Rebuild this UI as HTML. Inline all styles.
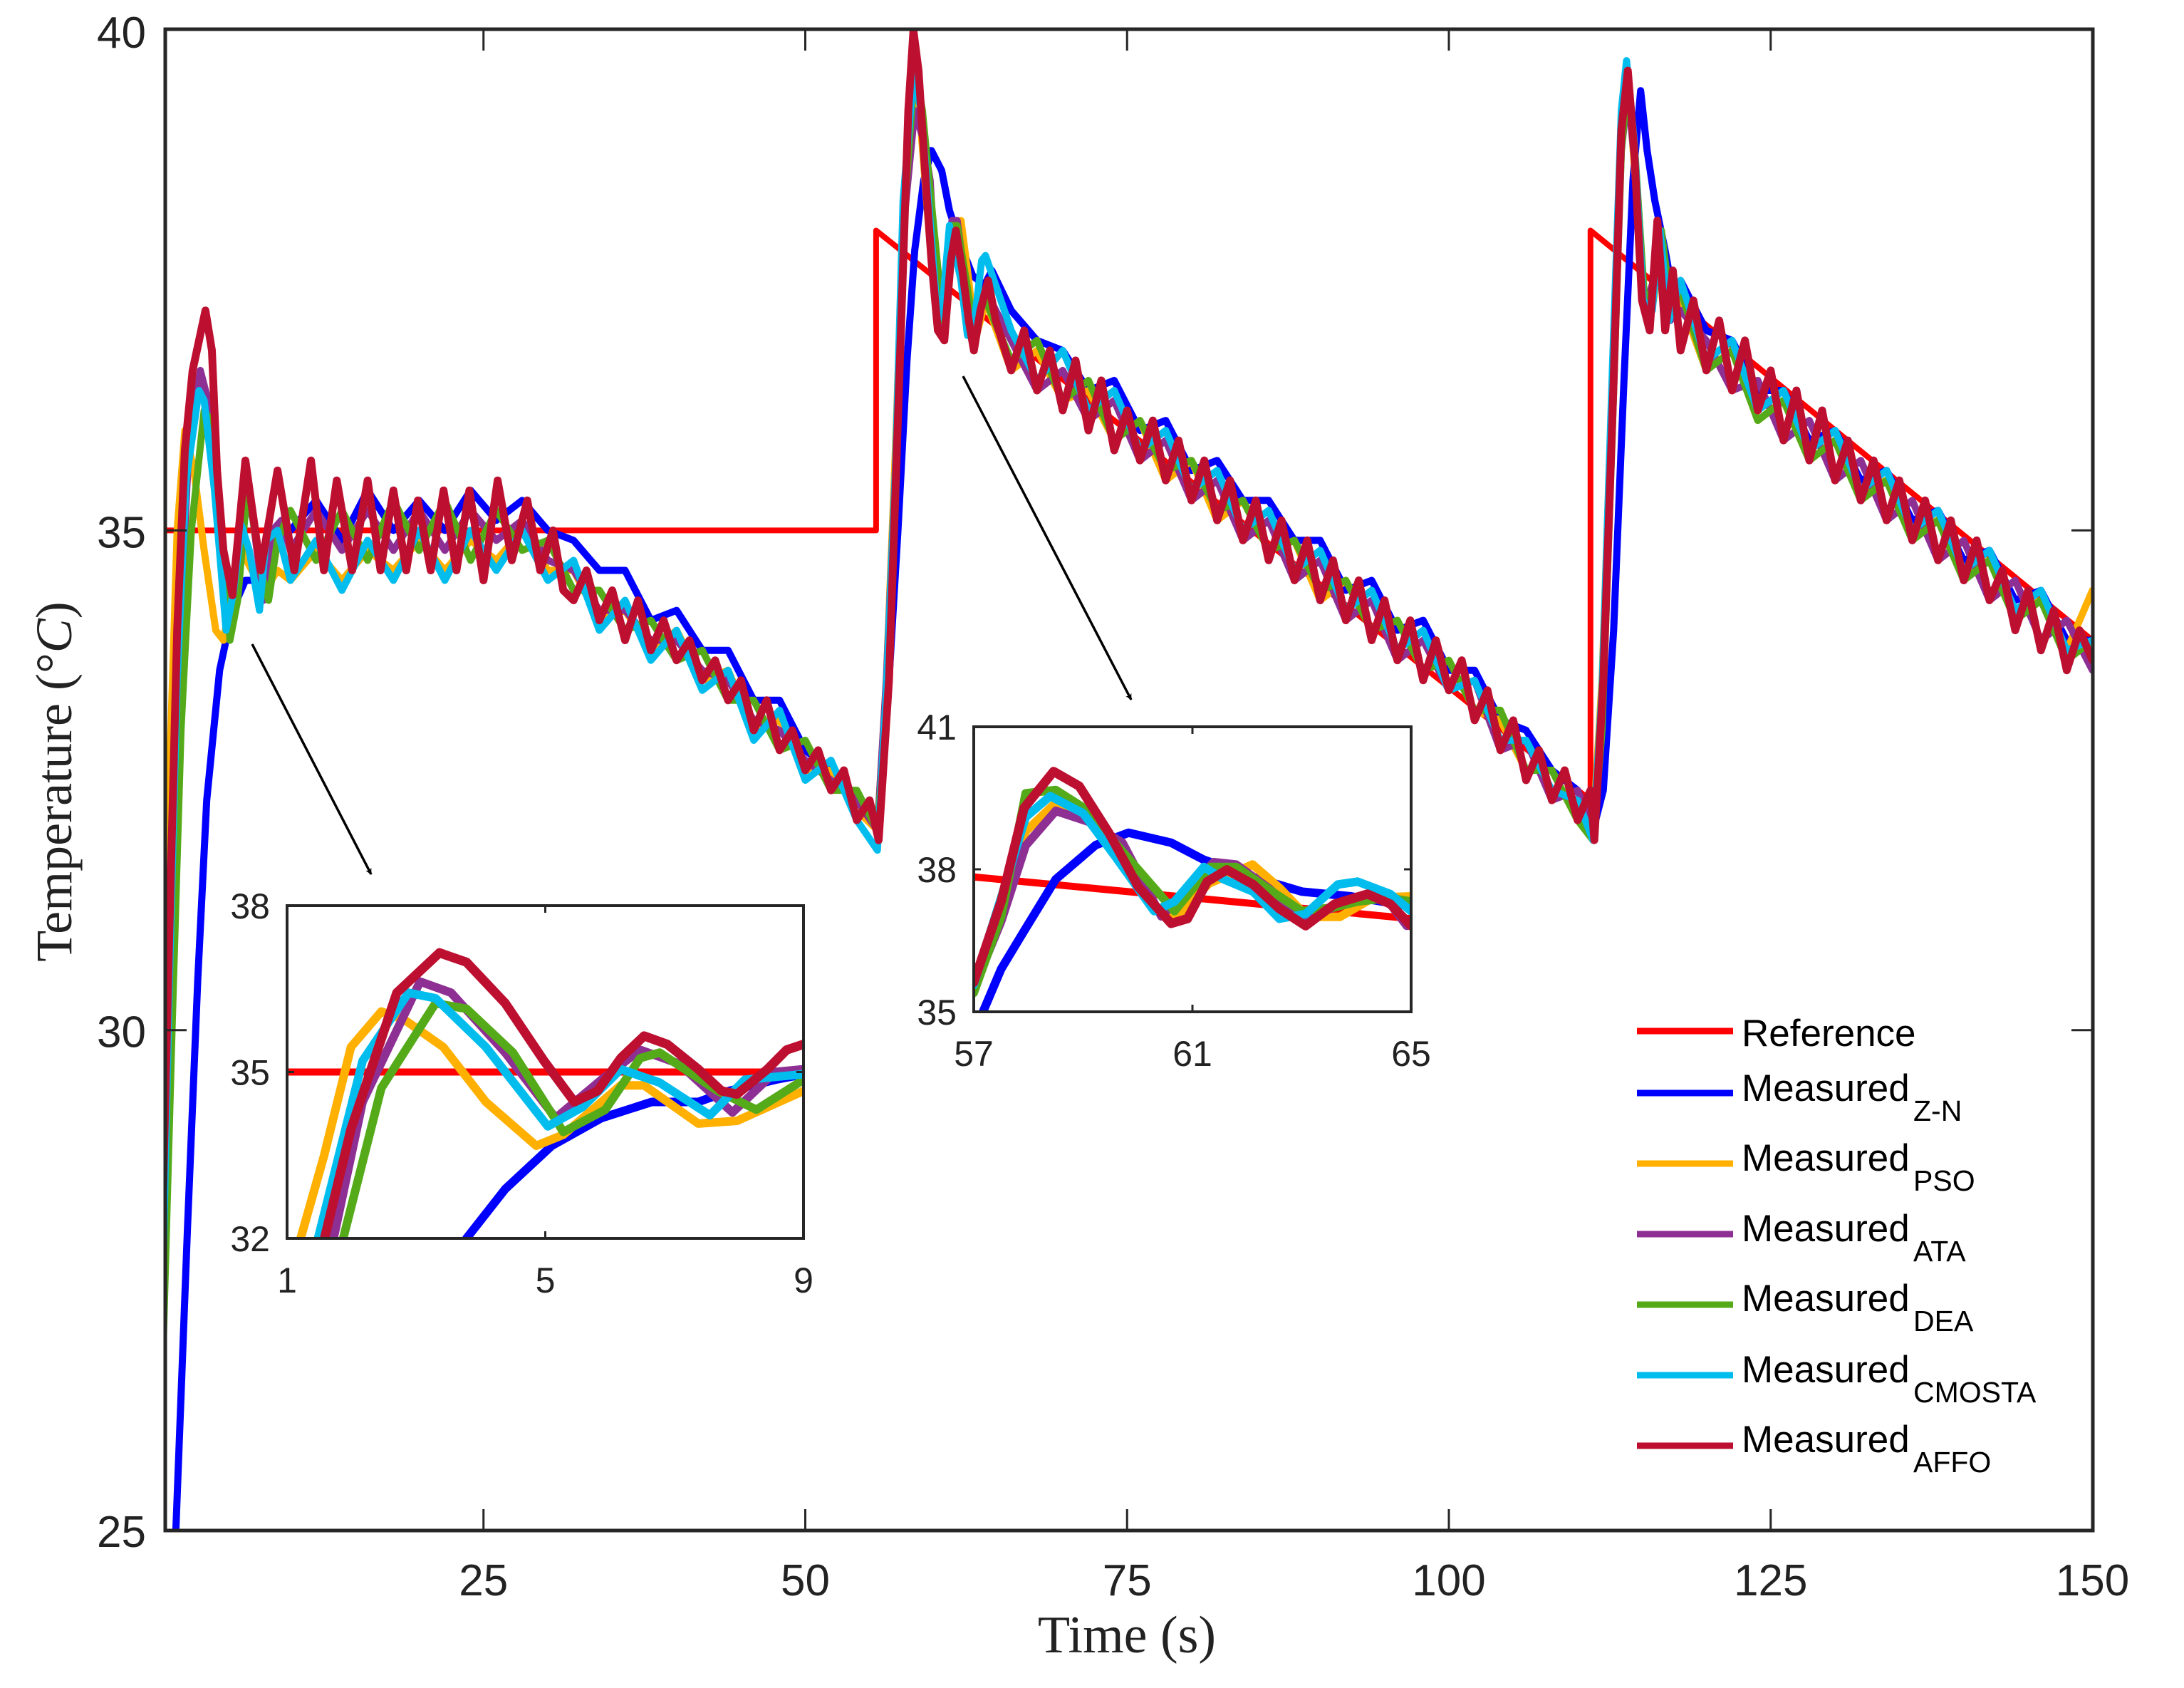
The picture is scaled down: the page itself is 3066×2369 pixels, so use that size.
<!DOCTYPE html>
<html><head><meta charset="utf-8"><title>Temperature response</title>
<style>
html,body{margin:0;padding:0;background:#fff;width:3066px;height:2369px;overflow:hidden;}
svg{display:block;}
.tk{font-family:"Liberation Sans",sans-serif;fill:#222;}
</style></head>
<body>
<svg id="chart" xmlns="http://www.w3.org/2000/svg" width="3066" height="2369" viewBox="0 0 3066 2369">
<defs>
<clipPath id="cMain"><rect x="232" y="41" width="2706" height="2107"/></clipPath>
<clipPath id="cIn1"><rect x="403" y="1271" width="725" height="467"/></clipPath>
<clipPath id="cIn2"><rect x="1367" y="1020" width="614" height="400"/></clipPath>
<marker id="arr" viewBox="0 0 10 10" refX="9" refY="5" markerWidth="9" markerHeight="9" orient="auto-start-reverse" markerUnits="userSpaceOnUse"><path d="M0,0 L10,5 L0,10 L3,5 z" fill="#000"/></marker>
</defs>
<rect x="0" y="0" width="3066" height="2369" fill="#fff"/>
<g id="mainLines" clip-path="url(#cMain)"></g>
<g id="axes"></g>
<line x1="354" y1="904" x2="521" y2="1227" stroke="#000" stroke-width="3.5" marker-end="url(#arr)"/>
<line x1="1352" y1="528" x2="1588" y2="982" stroke="#000" stroke-width="3.5" marker-end="url(#arr)"/>
<rect x="403" y="1271" width="725" height="467" fill="#fff"/>
<rect x="1367" y="1020" width="614" height="400" fill="#fff"/>
<g id="in1Lines" clip-path="url(#cIn1)"></g>
<g id="in2Lines" clip-path="url(#cIn2)"></g>
<g id="inAxes"></g>
<text x="1582" y="2319" text-anchor="middle" font-family="Liberation Serif, serif" font-size="74" fill="#222">Time (s)</text>
<text transform="translate(100,1097) rotate(-90)" text-anchor="middle" font-family="Liberation Serif, serif" font-size="72" fill="#222">Temperature (°<tspan font-style="italic">C</tspan>)</text>
<g id="legend"></g>
</svg>
<script>
// ---------- main chart data ----------
const xTicks = [25, 50, 75, 100, 125, 150];
const yTicks = [25, 30, 35, 40];
const refT = [0, 55.5, 55.5, 111, 111, 150];
const refV = [35, 35, 38, 32.3, 38, 33.9];

const znT = [0,1.1,2,2.8,3.5,4.5,5.5,6.5,7.5,8.5,9.5,10,12,14,16,18,20,22,24,26,28,30,32,34,36,38,40,42,44,46,48,50,52,54,55.6,56.5,57.2,57.9,58.5,59.2,59.8,60.6,61.2,62.1,63,63.9,64.5,66,68,70,72,74,76,78,80,82,84,86,88,90,92,94,96,98,100,102,104,106,108,110,111.2,112,112.8,113.6,114.3,114.9,115.4,116,116.8,117.5,118,120,122,124,126,128,130,132,134,136,138,140,142,144,146,148,150];
const znV = [22,25,28,30.5,32.3,33.6,34.2,34.5,34.5,34.8,35.0,35.0,35.3,34.9,35.4,35.0,35.3,35.0,35.4,35.1,35.3,35.0,34.9,34.6,34.6,34.1,34.2,33.8,33.8,33.3,33.3,32.8,32.6,32.3,32.0,33.5,35.0,36.7,37.8,38.5,38.8,38.6,38.2,37.85,37.55,37.45,37.6,37.2,36.9,36.8,36.4,36.5,36.0,36.1,35.6,35.7,35.3,35.3,34.9,34.9,34.4,34.5,34.0,34.1,33.6,33.6,33.1,33.0,32.6,32.4,32.0,32.4,34.0,36.5,38.5,39.4,38.8,38.3,37.8,37.3,37.5,37.0,36.9,36.4,36.4,35.9,36.0,35.5,35.6,35.1,35.2,34.7,34.8,34.3,34.4,33.9,33.9];

const psoT = [0,0.6,1.2,1.8,2.5,3.3,4.2,4.8,5.5,6.2,7,8,9,10,12,14,16,18,20,22,24,26,28,30,32,34,36,38,40,42,44,46,48,50,52,54,55.6,56.3,57,57.6,58.4,59,59.6,60.3,60.8,61.4,62.1,62.7,63.2,64,66,68,70,72,74,76,78,80,82,84,86,88,90,92,94,96,98,100,102,104,106,108,110,111.2,111.9,112.7,113.4,113.9,114.5,115.2,115.9,116.5,117.2,118,120,122,124,126,128,130,132,134,136,138,140,142,144,146,148,150];
const psoV = [29.2,32.5,35.0,36.0,35.6,34.8,34.0,33.9,34.4,34.8,34.6,34.4,34.6,34.5,34.8,34.5,34.8,34.6,34.9,34.6,34.9,34.7,35.0,34.6,34.6,34.1,34.2,33.8,34.0,33.5,33.6,33.0,33.1,32.6,32.6,32.2,32.0,33.5,35.8,38.0,39.4,39.0,38.0,37.1,37.2,37.9,38.1,37.5,36.9,37.3,36.6,36.8,36.3,36.4,35.9,36.1,35.5,35.7,35.1,35.3,34.8,34.9,34.3,34.5,34.0,34.1,33.6,33.7,33.2,33.1,32.6,32.6,32.1,32.0,33.5,36.5,39.0,39.5,38.5,37.2,37.3,37.9,37.2,37.3,36.6,36.8,36.1,36.3,35.7,35.9,35.4,35.5,35.0,35.1,34.6,34.7,34.2,34.3,33.8,34.4];

const ataT = [0,0.7,1.4,2.1,3.0,3.6,4.4,5.2,5.9,6.5,7.1,7.9,8.6,9.3,10,12,14,16,18,20,22,24,26,28,30,32,34,36,38,40,42,44,46,48,50,52,54,55.6,56.3,57,57.6,58.5,59.2,59.7,60.4,61.4,61.8,63,64,66,68,70,72,74,76,78,80,82,84,86,88,90,92,94,96,98,100,102,104,106,108,110,111.2,111.9,112.7,113.4,113.9,114.5,115.2,115.9,116.5,117.2,118,120,122,124,126,128,130,132,134,136,138,140,142,144,146,148,150];
const ataV = [27.3,31,34,35.8,36.6,36.3,35.3,34.2,34.8,35.4,35.1,34.3,35.0,35.1,34.8,35.2,34.8,35.2,34.8,35.2,34.8,35.2,34.9,35.1,34.7,34.6,34.2,34.2,33.9,33.9,33.6,33.5,33.1,33.0,32.7,32.5,32.3,32.0,33.5,35.6,38.0,39.2,38.9,38.5,37.0,38.1,38.1,36.95,37.4,36.9,36.4,36.6,36.1,36.3,35.7,35.9,35.3,35.5,34.9,35.1,34.5,34.7,34.1,34.3,33.7,33.9,33.4,33.5,32.8,32.9,32.3,32.4,32.0,33.3,36.3,38.8,39.4,38.6,37.2,37.5,38.0,37.1,37.2,36.9,36.4,36.5,35.9,36.1,35.5,35.7,35.1,35.3,34.7,34.9,34.3,34.5,33.9,34.1,33.6];

const deaT = [0,0.8,1.5,2.3,3.3,3.8,4.5,5.3,5.9,6.5,6.8,7.7,8.3,9.0,10,12,14,16,18,20,22,24,26,28,30,32,34,36,38,40,42,44,46,48,50,52,54,55.6,56.3,57,57.6,58.5,59.1,59.7,60.7,61.3,61.8,62.5,63,64,66,68,70,72,74,76,78,80,82,84,86,88,90,92,94,96,98,100,102,104,106,108,110,111.2,111.9,112.7,113.4,113.9,114.5,115.2,115.9,116.5,117.2,118,120,122,124,126,128,130,132,134,136,138,140,142,144,146,148,150];
const deaV = [26.3,30,33,35.0,36.2,36.1,35.3,33.9,34.3,35.2,35.35,34.6,34.3,34.9,35.2,34.7,35.2,34.7,35.3,34.8,35.3,34.7,35.2,34.8,34.9,34.4,34.4,34.0,34.1,33.7,33.8,33.3,33.3,32.8,32.9,32.4,32.4,32.0,33.2,35.4,38.0,39.65,39.2,38.4,37.1,38.05,38.05,37.5,37.1,37.3,36.7,36.9,36.3,36.5,35.9,36.1,35.6,35.7,35.2,35.3,34.8,34.9,34.4,34.5,34.0,34.1,33.6,33.7,33.2,33.2,32.6,32.6,32.1,31.9,33.0,36.0,38.8,39.5,38.7,37.3,37.4,38.0,37.3,37.4,36.6,36.8,36.1,36.3,35.7,35.9,35.3,35.5,34.9,35.1,34.5,34.7,34.1,34.3,33.7,33.9];

const cmoT = [0,0.6,1.2,1.9,2.9,3.3,4.1,5.0,5.6,6.2,6.8,7.6,8.1,9.0,10,12,14,16,18,20,22,24,26,28,30,32,34,36,38,40,42,44,46,48,50,52,54,55.6,56.3,57,57.6,58.4,59,59.6,60.3,60.7,61.2,61.6,62.1,62.6,63.1,63.7,64,66,68,70,72,74,76,78,80,82,84,86,88,90,92,94,96,98,100,102,104,106,108,110,111.2,111.9,112.7,113.4,113.8,114.4,115.1,115.8,116.4,117.1,118,120,122,124,126,128,130,132,134,136,138,140,142,144,146,148,150];
const cmoV = [27.0,30.5,33.5,35.5,36.4,36.3,35.4,34.0,34.4,35.05,34.8,34.2,34.9,35.0,34.5,34.9,34.4,34.9,34.5,35.0,34.5,35.0,34.6,35.0,34.5,34.7,34.0,34.3,33.7,34.0,33.4,33.6,32.9,33.2,32.5,32.7,32.1,31.8,33.4,35.6,38.3,39.55,39.2,38.25,37.1,37.3,38.05,37.8,37.5,36.95,37.05,37.7,37.75,37.0,36.5,36.8,36.2,36.4,35.8,36.0,35.4,35.6,35.0,35.2,34.6,34.8,34.2,34.4,33.8,34.0,33.4,33.5,32.9,32.9,32.4,32.3,31.9,33.4,36.6,39.2,39.7,38.9,37.3,37.2,38.0,37.1,37.5,36.7,36.9,36.2,36.4,35.8,36.0,35.4,35.6,35.0,35.2,34.6,34.8,34.2,34.4,33.8,33.9];

const affoT = [0,0.6,1.2,1.8,2.4,3.4,3.9,4.3,4.8,5.5,6.5,7.7,9.0,10.3,11.6,12.6,13.6,14.8,16.0,17.0,18.0,19.0,19.9,20.9,21.9,22.9,23.9,25.0,26.1,27.2,28.4,29.4,30.4,31.2,32,33,34,35,36,37,38,39,40,41,42,43,44,45,46,47,48,49,50,51,52,53,54,55,55.7,56.5,57.3,58,58.4,58.8,59.3,59.8,60.3,60.8,61.3,61.7,62.2,62.7,63.1,63.6,64.2,64.8,66,67,68,69,70,71,72,73,74,75,76,77,78,79,80,81,82,83,84,85,86,87,88,89,90,91,92,93,94,95,96,97,98,99,100,101,102,103,104,105,106,107,108,109,110,111,111.3,112,112.8,113.4,113.9,114.4,115,115.6,116.2,116.8,117.4,118,119,120,121,122,123,124,125,126,127,128,129,130,131,132,133,134,135,136,137,138,139,140,141,142,143,144,145,146,147,148,149,150];
const affoV = [27.8,31.0,34.0,35.8,36.6,37.2,36.8,35.6,34.8,34.35,35.7,34.6,35.6,34.6,35.7,34.6,35.5,34.6,35.5,34.6,35.4,34.6,35.3,34.6,35.4,34.6,35.4,34.5,35.5,34.7,35.3,34.6,35.0,34.4,34.3,34.6,34.1,34.4,33.9,34.3,33.8,34.1,33.7,33.9,33.5,33.7,33.3,33.5,33.0,33.3,32.8,33.0,32.6,32.8,32.4,32.6,32.1,32.3,31.9,33.5,36.5,39.2,40.0,39.6,38.6,37.7,37.0,36.9,37.7,38.0,37.6,37.1,36.8,37.2,37.5,37.1,36.6,37.0,36.4,36.8,36.2,36.7,36.0,36.5,35.8,36.2,35.7,36.1,35.5,35.9,35.3,35.7,35.1,35.5,34.9,35.3,34.7,35.1,34.5,34.9,34.3,34.7,34.1,34.5,33.9,34.3,33.7,34.1,33.5,33.9,33.4,33.7,33.1,33.4,32.8,33.1,32.5,32.8,32.3,32.6,32.1,32.4,31.9,33.5,36.5,39.0,39.6,38.8,37.3,37.0,38.1,37.0,37.6,36.8,37.3,36.6,37.1,36.4,36.9,36.2,36.6,35.9,36.4,35.7,36.2,35.5,35.9,35.3,35.7,35.1,35.5,34.9,35.3,34.7,35.1,34.5,34.9,34.3,34.6,34.0,34.4,33.8,34.2,33.6,34.0,33.7];

// ---------- inset 1 data (t 1..9) ----------
const in1XTicks = [1, 5, 9];
const in1YTicks = [32, 35, 38];
const in1RefT = [1, 9];
const in1RefV = [35, 35];
const in1ZnT = [3.6,3.78,4.38,5.1,5.87,6.65,7.37,7.85,8.21,8.56,9.0];
const in1ZnV = [31.5,32,32.89,33.67,34.17,34.46,34.46,34.66,34.76,34.86,34.96];
const in1PsoT = [1.1,1.21,1.57,1.99,2.46,2.82,3.42,4.08,4.86,5.28,6.17,6.53,7.37,7.97,9.0];
const in1PsoV = [31.5,32,33.48,35.45,36.09,35.94,35.45,34.46,33.67,33.87,34.76,34.76,34.07,34.12,34.66];
const in1AtaT = [1.65,1.72,2.17,3.06,3.54,4.38,5.16,5.87,6.47,7.07,7.9,8.56,9.0];
const in1AtaV = [31.6,32,34.46,36.63,36.43,35.35,34.17,34.86,35.4,35.15,34.27,35.0,35.05];
const in1DeaT = [1.8,1.87,2.46,3.3,3.78,4.5,5.28,5.93,6.47,6.77,7.67,8.27,9.0];
const in1DeaV = [31.6,32,34.71,36.24,36.14,35.35,33.92,34.32,35.25,35.35,34.66,34.32,34.86];
const in1CmoT = [1.4,1.48,2.17,2.88,3.3,4.08,5.04,5.58,6.17,6.77,7.55,8.09,9.0];
const in1CmoV = [31.6,32,35.2,36.43,36.33,35.45,34.02,34.37,35.05,34.81,34.22,34.86,34.96];
const in1AffoT = [1.5,1.58,1.99,2.7,3.36,3.78,4.38,4.98,5.45,5.81,6.17,6.53,6.89,7.37,7.73,7.97,8.44,8.74,9.0];
const in1AffoV = [31.6,32,33.97,36.43,37.15,36.98,36.24,35.2,34.46,34.66,35.25,35.65,35.5,35.05,34.66,34.6,35.05,35.4,35.5];

// ---------- inset 2 data (t 57..65) ----------
const in2XTicks = [57, 61, 65];
const in2YTicks = [35, 38, 41];
const in2RefT = [57, 65];
const in2RefV = [37.84, 36.96];
const in2ZnT = [57.17,57.5,57.92,58.5,59.23,59.83,60.61,61.21,62.1,63,63.9,65];
const in2ZnV = [35.0,35.9,36.7,37.79,38.51,38.77,38.56,38.2,37.84,37.53,37.43,37.22];
const in2PsoT = [57,57.5,57.95,58.5,59.0,59.6,60.3,60.7,61.3,62.1,62.6,63.1,63.7,64.3,65];
const in2PsoV = [35.5,37.0,38.8,39.4,39.2,38.3,37.2,37.0,37.7,38.1,37.6,37.0,37.0,37.4,37.43];
const in2AtaT = [57,57.5,57.95,58.5,59.1,59.72,60.43,61.39,61.8,62.4,63,63.6,64.2,64.6,64.92];
const in2AtaV = [35.5,36.9,38.5,39.23,39.0,38.56,37.01,38.15,38.1,37.6,36.96,37.2,37.43,37.3,36.81];
const in2DeaT = [57,57.5,57.95,58.5,59.1,59.7,60.67,61.33,61.8,62.46,63,63.6,64.02,64.6,65];
const in2DeaV = [35.4,37.0,39.6,39.67,39.23,38.4,37.12,38.05,38.05,37.53,37.12,37.2,37.32,37.4,37.32];
const in2CmoT = [57,57.5,57.95,58.4,59.0,59.6,60.3,60.67,61.21,61.57,62.11,62.59,63.07,63.66,64.02,64.62,65];
const in2CmoV = [35.57,37.4,39.1,39.54,39.18,38.25,37.12,37.32,38.05,37.79,37.53,36.96,37.06,37.68,37.74,37.48,37.12];
const in2AffoT = [57,57.5,57.92,58.46,58.93,59.47,60.01,60.61,60.91,61.27,61.63,62.11,62.59,63.07,63.6,64.2,64.62,65];
const in2AffoV = [35.62,37.32,39.29,40.06,39.75,38.77,37.63,36.86,36.96,37.74,37.99,37.68,37.17,36.81,37.27,37.48,37.27,36.81];

const colors = {ref:'#ff0000', zn:'#0000ff', pso:'#ffb000', ata:'#8e2f94', dea:'#55aa1a', cmo:'#00bdee', affo:'#bd0f30'};
const legendLabels = ['Reference','Measured','Measured','Measured','Measured','Measured','Measured'];
const legendSubs = ['', 'Z-N', 'PSO', 'ATA', 'DEA', 'CMOSTA', 'AFFO'];

const NS = 'http://www.w3.org/2000/svg';
function mk(tag, attrs, parent){ const e=document.createElementNS(NS,tag); for(const k in attrs) e.setAttribute(k,attrs[k]); parent.appendChild(e); return e; }

// axis functions
const X = t => 227 + 18.07*t;
const Y = v => 43 + (40 - v)*140.27;
const X1 = t => 403 + (t-1)*(725/8);
const Y1 = v => 1271 + (38 - v)*(467/6);
const X2 = t => 1367 + (t-57)*(614/8);
const Y2 = v => 1020 + (41 - v)*(400/6);

function line(g, ts, vs, fx, fy, color, w, name){
  let d='';
  for(let i=0;i<ts.length;i++){ d += (i?'L':'M') + fx(ts[i]).toFixed(1) + ',' + fy(vs[i]).toFixed(1); }
  const p = mk('path', {d:d, fill:'none', stroke:color, 'stroke-width':w, 'stroke-linejoin':'round', 'stroke-linecap':'round'}, g);
  
  
  return p;
}

// main
const gm = document.getElementById('mainLines');
line(gm, refT, refV, X, Y, colors.ref, 8, 'reference-line');
line(gm, znT, znV, X, Y, colors.zn, 10, 'measured-zn-line');
line(gm, psoT, psoV, X, Y, colors.pso, 10, 'measured-pso-line');
line(gm, ataT, ataV, X, Y, colors.ata, 10, 'measured-ata-line');
line(gm, deaT, deaV, X, Y, colors.dea, 10, 'measured-dea-line');
line(gm, cmoT, cmoV, X, Y, colors.cmo, 10, 'measured-cmosta-line');
line(gm, affoT, affoV, X, Y, colors.affo, 11, 'measured-affo-line');

// main axes
const ga = document.getElementById('axes');
const frame = mk('rect', {x:232, y:41, width:2706, height:2107, fill:'none', stroke:'#262626', 'stroke-width':5}, ga);


xTicks.forEach(t => {
  const x = X(t);
  const tb = mk('line', {x1:x, y1:2148, x2:x, y2:2118, stroke:'#262626', 'stroke-width':3}, ga);
  
  
  const tt = mk('line', {x1:x, y1:41, x2:x, y2:71, stroke:'#262626', 'stroke-width':3}, ga);
  
  
  const lb = mk('text', {x:x, y:2239, 'text-anchor':'middle', 'font-size':62, class:'tk'}, ga);
  lb.textContent = t;
  
  
});
yTicks.forEach(v => {
  const y = Y(v);
  if (v > 25 && v < 40) {
    const tl = mk('line', {x1:232, y1:y, x2:262, y2:y, stroke:'#262626', 'stroke-width':3}, ga);
    
    
    const tr = mk('line', {x1:2938, y1:y, x2:2908, y2:y, stroke:'#262626', 'stroke-width':3}, ga);
    
    
  }
  const lb = mk('text', {x:205, y:y+24, 'text-anchor':'end', 'font-size':62, class:'tk'}, ga);
  lb.textContent = v;
  
  
});

// insets
const g1 = document.getElementById('in1Lines');
line(g1, in1RefT, in1RefV, X1, Y1, colors.ref, 10, 'inset-1-reference-line');
line(g1, in1ZnT, in1ZnV, X1, Y1, colors.zn, 12, 'inset-1-zn-line');
line(g1, in1PsoT, in1PsoV, X1, Y1, colors.pso, 12, 'inset-1-pso-line');
line(g1, in1AtaT, in1AtaV, X1, Y1, colors.ata, 12, 'inset-1-ata-line');
line(g1, in1DeaT, in1DeaV, X1, Y1, colors.dea, 12, 'inset-1-dea-line');
line(g1, in1CmoT, in1CmoV, X1, Y1, colors.cmo, 12, 'inset-1-cmosta-line');
line(g1, in1AffoT, in1AffoV, X1, Y1, colors.affo, 13, 'inset-1-affo-line');

const g2 = document.getElementById('in2Lines');
line(g2, in2RefT, in2RefV, X2, Y2, colors.ref, 10, 'inset-2-reference-line');
line(g2, in2ZnT, in2ZnV, X2, Y2, colors.zn, 12, 'inset-2-zn-line');
line(g2, in2PsoT, in2PsoV, X2, Y2, colors.pso, 12, 'inset-2-pso-line');
line(g2, in2AtaT, in2AtaV, X2, Y2, colors.ata, 12, 'inset-2-ata-line');
line(g2, in2DeaT, in2DeaV, X2, Y2, colors.dea, 12, 'inset-2-dea-line');
line(g2, in2CmoT, in2CmoV, X2, Y2, colors.cmo, 12, 'inset-2-cmosta-line');
line(g2, in2AffoT, in2AffoV, X2, Y2, colors.affo, 13, 'inset-2-affo-line');

const gi = document.getElementById('inAxes');
function insetAxes(x0,y0,w,h,xt,yt,fx,fy,name){
  const r = mk('rect', {x:x0, y:y0, width:w, height:h, fill:'none', stroke:'#262626', 'stroke-width':4}, gi);
  
  
  xt.forEach((t,i) => {
    const x = fx(t);
    if (i>0 && i<xt.length-1) {
      const a = mk('line', {x1:x, y1:y0+h, x2:x, y2:y0+h-10, stroke:'#262626', 'stroke-width':3}, gi);
      
      
      const b = mk('line', {x1:x, y1:y0, x2:x, y2:y0+10, stroke:'#262626', 'stroke-width':3}, gi);
      
      
    }
    const lb = mk('text', {x:x, y:y0+h+76, 'text-anchor':'middle', 'font-size':50, class:'tk'}, gi);
    lb.textContent = t;
    
    
  });
  yt.forEach((v,i) => {
    const y = fy(v);
    if (i>0 && i<yt.length-1) {
      const a = mk('line', {x1:x0, y1:y, x2:x0+10, y2:y, stroke:'#262626', 'stroke-width':3}, gi);
      
      
      const b = mk('line', {x1:x0+w, y1:y, x2:x0+w-10, y2:y, stroke:'#262626', 'stroke-width':3}, gi);
      
      
    }
    const lb = mk('text', {x:x0-24, y:y+18, 'text-anchor':'end', 'font-size':50, class:'tk'}, gi);
    lb.textContent = v;
    
    
  });
}
insetAxes(403,1271,725,467,in1XTicks,in1YTicks,X1,Y1,'inset-1');
insetAxes(1367,1020,614,400,in2XTicks,in2YTicks,X2,Y2,'inset-2');

// legend
const gl = document.getElementById('legend');
const legColors = [colors.ref, colors.zn, colors.pso, colors.ata, colors.dea, colors.cmo, colors.affo];
const legLineY = [1447,1534,1633,1732,1831,1930,2029];
const legBase = [1468,1545,1643,1742,1840,1940,2038];
legendLabels.forEach((lab,i) => {
  const item = mk('g', {}, gl);
  
  
  mk('line', {x1:2298, y1:legLineY[i], x2:2433, y2:legLineY[i], stroke:legColors[i], 'stroke-width':9}, item);
  const t = mk('text', {x:2445, y:legBase[i], 'font-size':53, fill:'#000', 'font-family':'Liberation Sans, sans-serif'}, item);
  t.textContent = lab;
  if (legendSubs[i]) {
    const s = mk('text', {x:2686, y:legBase[i]+28, 'font-size':41, fill:'#000', 'font-family':'Liberation Sans, sans-serif'}, item);
    s.textContent = legendSubs[i];
  }
});
</script>
</body></html>
